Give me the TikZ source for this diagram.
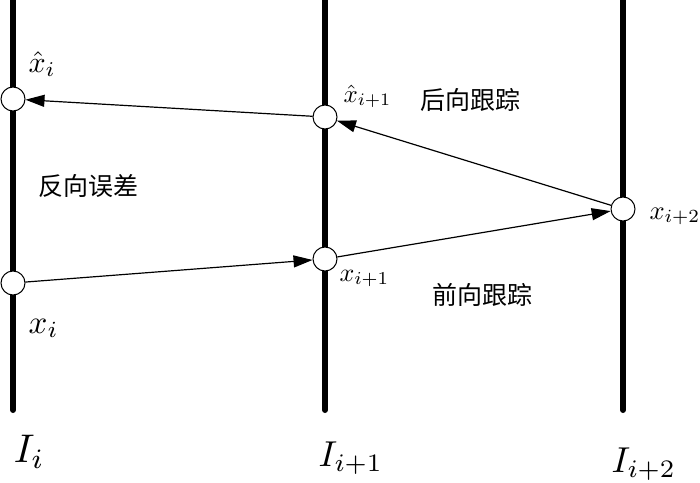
\documentclass[tikz,border=0pt]{standalone}
\usepackage{fontspec}
\newfontfamily\cjk{Noto Sans CJK SC}
\usetikzlibrary{arrows.meta}
\tikzset{
  frameline/.style={line width=6pt, line cap=round},
  pt/.style={circle, draw, line width=1pt, fill=white, minimum size=24pt, inner sep=0pt},
  arr/.style={line width=1.2pt, -{Triangle[length=19pt,width=12pt]}},
  mlabel/.style={inner sep=0pt, anchor=base west, scale=#1},
  cn/.style={inner sep=0pt, font=\cjk\fontsize{25}{25}\selectfont}
}
\begin{document}
\begin{tikzpicture}[x=1pt,y=-1pt]
\useasboundingbox[fill=white] (0,0) rectangle (700,482);
% frame lines
\draw[frameline] (13,-10) coordinate (t1) -- (13,410) coordinate (b1);
\draw[frameline] (325,-10) coordinate (t2) -- (325,410) coordinate (b2);
\draw[frameline] (623,-10) coordinate (t3) -- (623,410) coordinate (b3);
% points
\node[pt] (lh) at (13,99) {};
\node[pt] (mh) at (325,117) {};
\node[pt] (lx) at (13,283) {};
\node[pt] (mx) at (325,259) {};
\node[pt] (rx) at (623,209) {};
% arrows
\draw[arr] (mh) -- (lh);
\draw[arr] (rx) -- (mh);
\draw[arr] (lx) -- (mx);
\draw[arr] (mx) -- (rx);
% labels
\node[mlabel=3.0] (lhl) at (28,72) {$\hat{x}_i$};
\node[mlabel=2.5] (mhl) at (343,102) {$\hat{x}_{i+1}$};
\node[mlabel=3.3] (lxl) at (28,333) {$x_i$};
\node[mlabel=2.6] (mxl) at (339,281) {$x_{i+1}$};
\node[mlabel=2.65] (rxl) at (649,219) {$x_{i+2}$};
\node[mlabel=4.0] (I1) at (13,462) {$I_i$};
\node[mlabel=3.6] (I2) at (318,466) {$I_{i+1}$};
\node[mlabel=3.6] (I3) at (611,472) {$I_{i+2}$};
\node[cn] (bt) at (470,100) {后向跟踪};
\node[cn] (fe) at (88,186) {反向误差};
\node[cn] (ft) at (482,295) {前向跟踪};
\end{tikzpicture}
\end{document}
